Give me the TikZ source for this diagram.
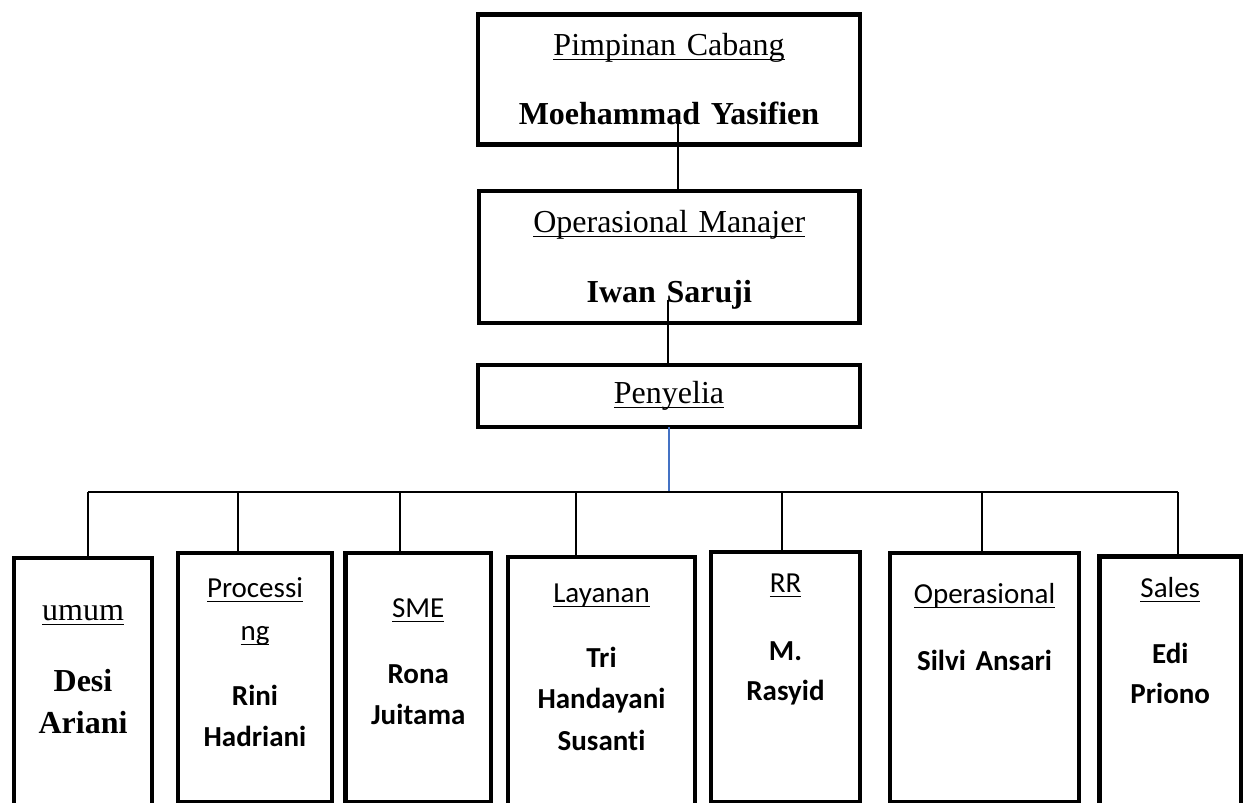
\documentclass[tikz,border=0pt]{standalone}
\usepackage{fontspec}
\setmainfont{Liberation Serif}
\newfontfamily\calibri[Ligatures=NoCommon]{Carlito}
\newsavebox{\teksbox}
\newcommand{\garisbawah}[1]{\leavevmode\sbox{\teksbox}{#1}%
\rlap{\rule[-5.3pt]{\wd\teksbox}{1.6pt}}\usebox{\teksbox}}
\definecolor{garisbiru}{RGB}{68,114,196}
\begin{document}
\begin{tikzpicture}%
[x=1pt,y=-1pt,
every node/.style={rectangle,draw=black,line width=4.2pt,anchor=north,
inner sep=0pt,outer sep=0pt,align=center},
atas/.style={font=\fontsize{32}{38}\selectfont},
bawah/.style={font=\calibri\fontsize{29}{41.5}\selectfont,text depth=300pt},
garis/.style={line width=1.5pt}]
\useasboundingbox (0,0) rectangle (1243,803);
\clip (0,0) rectangle (1243,803);
% pimpinan
\node (cabang) at (669,14.5) [atas, text width=382pt, text height=40.5pt,
text depth=89.5pt] {\garisbawah{Pimpinan Cabang}\\[32pt]\textbf{Moehammad Yasifien}};
\node (manajer) at (669.25,191) [atas, text width=380.5pt, text height=41pt,
text depth=91pt] {\garisbawah{Operasional Manajer}\\[32pt]\textbf{Iwan Saruji}};
\node (penyelia) at (669,365) [atas, text width=382pt, text height=38pt,
text depth=24pt] {\garisbawah{Penyelia}};
% bagian
\node (umum) at (83,558) [bawah, font=\fontsize{32}{42}\selectfont,
text width=138pt, text height=62pt]
{\garisbawah{umum}\\[29pt]\textbf{Desi}\\\textbf{Ariani}};
\node (processing) at (255,553) [bawah, text width=154pt, text height=44pt,
text depth=205pt]
{\garisbawah{Processi}\\[1.5pt]\garisbawah{ng}\\[23.5pt]\textbf{Rini}\\\textbf{Hadriani}};
\node (sme) at (418.25,553) [bawah, text width=145.5pt, text height=64pt,
text depth=185pt] {\garisbawah{SME}\\[24.5pt]\textbf{Rona}\\\textbf{Juitama}};
\node (layanan) at (601.5,557) [bawah, text width=187pt, text height=45pt]
{\garisbawah{Layanan}\\[23.5pt]\textbf{Tri}\\\textbf{Handayani}\\\textbf{Susanti}};
\node (rr) at (785.5,552) [bawah, text width=149pt, text height=40pt,
text depth=210pt] {\garisbawah{RR}\\[26.5pt]\textbf{M.}\\[-1.5pt]\textbf{Rasyid}};
\node (operasional) at (984.5,553) [bawah, text width=189pt, text height=50pt,
text depth=199pt] {\garisbawah{Operasional}\\[25.5pt]\textbf{Silvi Ansari}};
\node (sales) at (1170.25,556.5) [bawah, text width=141.5pt, text height=40.5pt]
{\garisbawah{Sales}\\[24.5pt]\textbf{Edi}\\[-1.5pt]\textbf{Priono}};
% garis
\coordinate (c1) at (678,123);
\coordinate (c2) at (668,300);
\coordinate (d1) at (88,492);
\coordinate (d2) at (238,492);
\coordinate (d3) at (400,492);
\coordinate (d4) at (576,492);
\coordinate (d5) at (782,492);
\coordinate (d6) at (982,492);
\coordinate (d7) at (1178,492);
\draw [garis] (c1) -- (c1 |- manajer.north);
\draw [garis] (c2) -- (c2 |- penyelia.north);
\draw [garis,garisbiru] (penyelia.south) -- (penyelia.south |- d1);
\draw [garis] (d1) -- (d7);
\foreach \d/\n in {d1/umum,d2/processing,d3/sme,d4/layanan,d5/rr,
d6/operasional,d7/sales}
\draw [garis] (\d) -- (\d |- \n.north);
\end{tikzpicture}
\end{document}
